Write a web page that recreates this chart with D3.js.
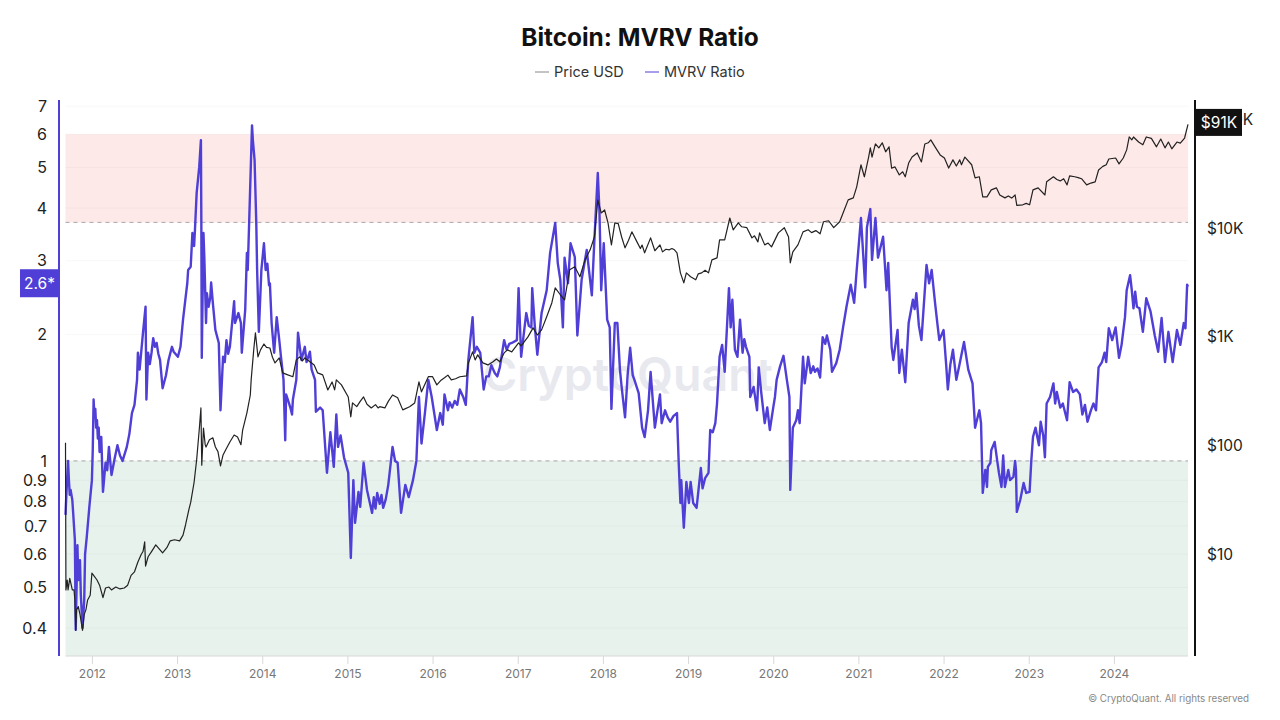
<!DOCTYPE html>
<html>

<head>
  <title>Bitcoin: MVRV Ratio</title>
  <script src="https://cdn.jsdelivr.net/npm/d3@7/dist/d3.min.js"></script>
  <style>
    body { margin: 0; background: #fff; font-family: Inter, "Noto Sans", sans-serif; }
    svg { display: block; }
    .domain { display: none; }
  </style>
</head>

<body>
  <svg id="chart" width="1280" height="720"></svg>

  <script>
    // [decimal year, MVRV ratio]
    var mvrvPoints = [
      [2011.69,.744],[2011.70,.83],[2011.72,1],[2011.73,.9],[2011.74,.83],[2011.75,.853],[2011.77,.807],[2011.78,.752],[2011.80,.648],[2011.81,.396],[2011.83,.63],[2011.84,.52],[2011.86,.58],[2011.87,.48],[2011.89,.4],[2011.91,.467],[2011.92,.6],[2011.94,.66],[2011.97,.777],
      [2012.00,.9],[2012.01,1.06],[2012.02,1.4],[2012.03,1.27],[2012.04,1.33],[2012.05,1.2],[2012.06,1.25],[2012.07,1.13],[2012.08,1.2],[2012.09,1.05],[2012.11,1.14],[2012.13,.844],[2012.16,.99],[2012.18,.95],[2012.20,1.08],[2012.23,.926],[2012.27,1.02],[2012.30,1.09],[2012.33,1.03],[2012.36,1],[2012.41,1.08],[2012.44,1.16],[2012.47,1.3],[2012.50,1.36],[2012.53,1.56],[2012.54,1.81],[2012.56,1.65],[2012.60,2.02],[2012.63,2.33],[2012.64,1.4],[2012.66,1.81],[2012.68,1.7],[2012.70,1.81],[2012.72,1.96],[2012.74,1.87],[2012.76,1.91],[2012.78,1.8],[2012.80,1.74],[2012.83,1.49],[2012.87,1.6],[2012.90,1.74],[2012.94,1.87],[2012.96,1.82],
      [2013.01,1.77],[2013.04,1.87],[2013.07,2.17],[2013.10,2.45],[2013.12,2.65],[2013.13,2.85],[2013.16,2.9],[2013.18,3.49],[2013.20,3.25],[2013.21,3.55],[2013.23,4.35],[2013.26,5.01],[2013.28,5.81],[2013.285,3.69],[2013.29,1.76],[2013.31,3.49],[2013.32,3.06],[2013.34,2.13],[2013.35,2.51],[2013.37,2.33],[2013.39,2.45],[2013.40,2.66],[2013.42,2.38],[2013.45,2.05],[2013.49,1.91],[2013.51,1.32],[2013.54,1.77],[2013.56,1.72],[2013.58,1.94],[2013.60,1.8],[2013.62,1.87],[2013.67,2.4],[2013.68,2.13],[2013.72,2.25],[2013.75,2.13],[2013.76,1.81],[2013.80,2.29],[2013.82,3.13],[2013.83,2.85],[2013.88,6.3],[2013.89,5.81],[2013.91,5.21],[2013.93,3.69],[2013.94,2.85],[2013.96,2.03],[2013.99,2.85],
      [2014.02,3.3],[2014.04,2.85],[2014.06,2.95],[2014.08,2.62],[2014.09,2.65],[2014.11,2.13],[2014.14,1.81],[2014.17,2.2],[2014.20,1.94],[2014.22,1.77],[2014.25,1.56],[2014.27,1.12],[2014.28,1.44],[2014.31,1.38],[2014.33,1.34],[2014.35,1.29],[2014.36,1.4],[2014.40,1.56],[2014.42,2.02],[2014.46,1.74],[2014.50,1.87],[2014.52,1.72],[2014.54,1.77],[2014.56,1.82],[2014.58,1.65],[2014.62,1.56],[2014.63,1.31],[2014.68,1.34],[2014.71,1.32],[2014.76,.937],[2014.80,1.17],[2014.84,.968],[2014.87,1.29],[2014.89,1.08],[2014.92,1.15],[2014.96,1.02],
      [2015.01,.937],[2015.04,.587],[2015.07,.9],[2015.09,.712],[2015.13,.844],[2015.15,.777],[2015.19,.99],[2015.23,.853],[2015.26,.8],[2015.29,.752],[2015.31,.82],[2015.33,.77],[2015.35,.839],[2015.38,.79],[2015.40,.83],[2015.42,.773],[2015.45,.81],[2015.48,.877],[2015.53,1.08],[2015.56,1],[2015.59,.99],[2015.63,.752],[2015.68,.877],[2015.72,.82],[2015.77,.9],[2015.81,1],[2015.84,1.42],[2015.87,1.1],[2015.91,1.3],[2015.95,1.56],[2015.99,1.42],
      [2016.05,1.185],[2016.09,1.3],[2016.12,1.22],[2016.14,1.44],[2016.18,1.32],[2016.20,1.38],[2016.23,1.34],[2016.26,1.39],[2016.29,1.36],[2016.32,1.48],[2016.36,1.42],[2016.39,1.36],[2016.42,1.74],[2016.47,2.2],[2016.49,1.81],[2016.52,1.87],[2016.56,1.81],[2016.60,1.48],[2016.63,1.59],[2016.66,1.59],[2016.69,1.69],[2016.73,1.62],[2016.76,1.59],[2016.79,1.67],[2016.84,1.94],[2016.87,1.84],[2016.90,1.9],[2016.93,1.91],[2016.99,1.94],
      [2017.01,2.58],[2017.04,1.77],[2017.07,2.0],[2017.10,2.25],[2017.13,2.1],[2017.16,2.08],[2017.17,2.58],[2017.20,2.1],[2017.23,1.79],[2017.28,2.25],[2017.34,2.55],[2017.38,3.13],[2017.44,3.69],[2017.47,2.96],[2017.50,2.7],[2017.53,2.08],[2017.55,3.05],[2017.59,2.65],[2017.62,3.3],[2017.67,3.06],[2017.70,1.99],[2017.75,2.7],[2017.81,3.18],[2017.87,2.48],[2017.90,3.36],[2017.94,4.85],[2017.96,3.9],[2017.98,2.55],
      [2018.01,3.3],[2018.05,2.17],[2018.08,2.08],[2018.10,1.33],[2018.14,2.13],[2018.17,2.13],[2018.20,1.65],[2018.22,1.5],[2018.26,1.27],[2018.29,1.6],[2018.32,1.86],[2018.35,1.6],[2018.37,1.56],[2018.42,1.45],[2018.46,1.2],[2018.49,1.14],[2018.53,1.32],[2018.56,1.63],[2018.61,1.2],[2018.67,1.44],[2018.69,1.23],[2018.73,1.32],[2018.76,1.27],[2018.79,1.24],[2018.83,1.28],[2018.87,1.3],[2018.89,.99],[2018.91,.794],[2018.92,.9],[2018.95,.693],[2018.98,.891],
      [2019.01,.794],[2019.03,.891],[2019.06,.794],[2019.10,.773],[2019.15,.962],[2019.17,.86],[2019.20,.91],[2019.24,.937],[2019.26,1.185],[2019.29,1.17],[2019.32,1.23],[2019.34,1.37],[2019.37,1.77],[2019.40,1.89],[2019.43,1.63],[2019.48,2.58],[2019.50,2.08],[2019.52,2.42],[2019.55,1.84],[2019.58,1.77],[2019.61,2.17],[2019.64,1.81],[2019.66,1.95],[2019.68,1.87],[2019.72,1.77],[2019.73,1.42],[2019.77,1.5],[2019.81,1.32],[2019.83,1.67],[2019.86,1.45],[2019.90,1.23],[2019.93,1.34],[2019.96,1.185],
      [2020.00,1.34],[2020.02,1.42],[2020.04,1.56],[2020.08,1.68],[2020.12,1.78],[2020.16,1.56],[2020.19,1.42],[2020.20,.853],[2020.23,1.2],[2020.27,1.25],[2020.29,1.32],[2020.31,1.23],[2020.35,1.77],[2020.37,1.53],[2020.41,1.77],[2020.44,1.62],[2020.47,1.68],[2020.49,1.63],[2020.52,1.66],[2020.55,1.58],[2020.58,1.97],[2020.61,1.9],[2020.63,1.99],[2020.67,1.84],[2020.69,1.63],[2020.74,1.71],[2020.78,1.84],[2020.82,2.08],[2020.86,2.33],[2020.91,2.63],[2020.95,2.38],[2020.98,2.85],
      [2021.03,3.79],[2021.08,2.59],[2021.10,3.6],[2021.14,3.98],[2021.16,3.01],[2021.20,3.79],[2021.23,3.05],[2021.29,3.42],[2021.31,2.96],[2021.33,2.55],[2021.35,2.96],[2021.39,1.87],[2021.41,1.74],[2021.46,2.05],[2021.48,1.62],[2021.51,1.84],[2021.55,1.54],[2021.59,2.13],[2021.62,2.3],[2021.64,2.42],[2021.66,2.3],[2021.68,2.51],[2021.71,2.1],[2021.74,1.94],[2021.80,2.93],[2021.83,2.65],[2021.86,2.85],[2021.90,2.38],[2021.93,2.1],[2021.95,1.94],
      [2022.00,2.05],[2022.03,1.7],[2022.05,1.48],[2022.08,1.7],[2022.11,1.84],[2022.15,1.56],[2022.18,1.67],[2022.24,1.92],[2022.29,1.65],[2022.34,1.53],[2022.37,1.2],[2022.42,1.32],[2022.44,1.23],[2022.46,.839],[2022.49,.952],[2022.51,.867],[2022.52,.968],[2022.55,.99],[2022.56,1.06],[2022.60,1.11],[2022.63,1],[2022.65,.937],[2022.68,.867],[2022.70,1.03],[2022.72,.867],[2022.76,.952],[2022.78,.9],[2022.82,.916],[2022.84,1],[2022.85,.952],[2022.86,.756],[2022.90,.807],[2022.94,.886],[2022.97,.839],
      [2023.01,.844],[2023.03,1],[2023.05,1.14],[2023.08,1.2],[2023.12,1.09],[2023.14,1.24],[2023.17,1.15],[2023.19,1.02],[2023.21,1.37],[2023.25,1.42],[2023.29,1.53],[2023.31,1.37],[2023.33,1.46],[2023.37,1.34],[2023.40,1.37],[2023.45,1.25],[2023.48,1.54],[2023.52,1.46],[2023.56,1.48],[2023.60,1.44],[2023.63,1.29],[2023.66,1.36],[2023.69,1.24],[2023.73,1.32],[2023.76,1.37],[2023.79,1.32],[2023.82,1.67],[2023.86,1.72],[2023.89,1.81],[2023.91,1.72],[2023.94,2.07],[2023.98,1.94],
      [2024.02,2.08],[2024.06,1.76],[2024.09,1.89],[2024.13,2.2],[2024.15,2.55],[2024.19,2.77],[2024.21,2.55],[2024.23,2.31],[2024.25,2.53],[2024.27,2.33],[2024.30,2.31],[2024.34,2.03],[2024.38,2.44],[2024.43,2.27],[2024.48,1.99],[2024.52,1.82],[2024.56,2.19],[2024.60,1.72],[2024.64,2.03],[2024.69,1.72],[2024.74,2.05],[2024.78,1.89],[2024.82,2.13],[2024.84,2.07],[2024.86,2.63],[2024.87,2.6]
    ];

    // [decimal year, price in USD]
    var pricePoints = [
      [2011.69,106],[2011.695,4.7],[2011.71,5.8],[2011.72,4.7],[2011.74,6],[2011.77,4.7],[2011.79,4.7],[2011.80,3.8],[2011.81,2],[2011.82,3.1],[2011.84,3.3],[2011.86,2.8],[2011.89,2],[2011.91,2.8],[2011.93,3.1],[2011.95,3.8],[2011.98,4.2],
      [2012.00,6.7],[2012.02,6.4],[2012.06,5.8],[2012.09,5.2],[2012.13,4],[2012.16,4.9],[2012.20,5],[2012.23,4.7],[2012.28,5],[2012.33,4.8],[2012.38,4.9],[2012.42,5.2],[2012.46,6.4],[2012.50,6.9],[2012.54,8.5],[2012.58,10],[2012.60,10.6],[2012.62,13],[2012.63,7.8],[2012.66,9.5],[2012.70,10.6],[2012.75,12.2],[2012.80,11],[2012.83,10.3],[2012.88,11.5],[2012.92,13.3],[2012.97,13.6],
      [2013.03,13.3],[2013.07,15],[2013.10,18.7],[2013.14,26],[2013.16,30],[2013.20,46],[2013.23,74],[2013.26,139],[2013.28,222],[2013.29,66],[2013.31,145],[2013.33,102],[2013.34,97],[2013.38,113],[2013.42,118],[2013.45,97],[2013.48,88],[2013.51,65],[2013.54,82],[2013.57,91],[2013.62,108],[2013.67,125],[2013.71,120],[2013.75,102],[2013.77,139],[2013.82,200],[2013.86,292],[2013.87,402],[2013.90,760],[2013.92,1090],[2013.95,655],[2013.98,760],
      [2014.02,860],[2014.05,800],[2014.09,790],[2014.12,650],[2014.15,576],[2014.20,640],[2014.24,466],[2014.30,447],[2014.36,430],[2014.40,614],[2014.44,655],[2014.47,600],[2014.50,640],[2014.56,590],[2014.61,552],[2014.65,466],[2014.71,447],[2014.77,325],[2014.82,385],[2014.85,325],[2014.87,402],[2014.93,362],
      [2015.01,280],[2015.04,184],[2015.06,247],[2015.11,228],[2015.15,255],[2015.19,280],[2015.23,240],[2015.28,222],[2015.33,238],[2015.36,222],[2015.38,228],[2015.44,222],[2015.48,255],[2015.53,292],[2015.59,275],[2015.65,213],[2015.73,228],[2015.79,247],[2015.84,385],[2015.87,312],[2015.95,430],
      [2016.00,430],[2016.05,362],[2016.10,400],[2016.14,420],[2016.18,445],[2016.22,402],[2016.27,412],[2016.32,430],[2016.40,438],[2016.42,576],[2016.47,728],[2016.50,614],[2016.53,683],[2016.59,576],[2016.65,552],[2016.71,590],[2016.75,625],[2016.79,590],[2016.84,712],[2016.88,760],[2016.93,728],
      [2017.01,880],[2017.04,826],[2017.12,1000],[2017.18,1210],[2017.23,1040],[2017.28,1160],[2017.34,1530],[2017.40,2050],[2017.44,2820],[2017.50,2440],[2017.55,2190],[2017.61,4140],[2017.67,4410],[2017.73,3570],[2017.79,5110],[2017.85,6320],[2017.90,8290],[2017.94,18200],[2017.98,13800],
      [2018.02,14700],[2018.06,11200],[2018.10,7020],[2018.14,11200],[2018.18,11000],[2018.22,8290],[2018.26,6590],[2018.30,7700],[2018.34,9250],[2018.40,7480],[2018.44,6500],[2018.46,7000],[2018.49,5930],[2018.56,8140],[2018.61,6200],[2018.67,7020],[2018.70,6050],[2018.74,6400],[2018.78,6320],[2018.81,6500],[2018.84,6320],[2018.87,5930],[2018.91,3880],[2018.95,3140],[2018.98,3880],
      [2019.03,3570],[2019.09,3350],[2019.12,3800],[2019.16,3880],[2019.20,4100],[2019.24,3880],[2019.28,5110],[2019.34,5330],[2019.37,7800],[2019.43,7800],[2019.49,12400],[2019.53,9660],[2019.59,11200],[2019.63,10300],[2019.69,10100],[2019.75,8140],[2019.78,8500],[2019.82,7480],[2019.84,9050],[2019.90,7020],[2019.94,7300],[2019.98,6730],
      [2020.06,9050],[2020.13,10100],[2020.18,8290],[2020.20,4800],[2020.23,6050],[2020.29,7020],[2020.35,9250],[2020.41,9660],[2020.45,9100],[2020.50,9500],[2020.55,8870],[2020.59,11450],[2020.65,11700],[2020.71,10100],[2020.78,11450],[2020.82,13800],[2020.88,18200],[2020.94,19000],[2020.98,24000],
      [2021.03,38300],[2021.07,29700],[2021.12,45100],[2021.14,54800],[2021.16,45100],[2021.20,59500],[2021.24,54800],[2021.28,61000],[2021.32,50400],[2021.36,56000],[2021.39,35700],[2021.43,36600],[2021.46,33000],[2021.48,30900],[2021.52,33000],[2021.55,29700],[2021.59,39700],[2021.63,45100],[2021.69,49200],[2021.74,40700],[2021.78,59500],[2021.82,61000],[2021.85,64900],[2021.90,56000],[2021.96,47200],
      [2022.01,44200],[2022.06,35700],[2022.11,42500],[2022.15,37300],[2022.19,42500],[2022.21,38300],[2022.25,45100],[2022.33,38300],[2022.37,29000],[2022.42,29700],[2022.46,19400],[2022.51,19400],[2022.56,22500],[2022.62,23500],[2022.66,20200],[2022.72,19000],[2022.76,19800],[2022.80,18900],[2022.84,20200],[2022.86,16200],[2022.93,16400],[2022.97,16900],
      [2023.01,16400],[2023.05,22500],[2023.11,23500],[2023.19,20200],[2023.21,26700],[2023.29,29700],[2023.33,28000],[2023.37,27200],[2023.41,28500],[2023.45,25000],[2023.48,30300],[2023.54,29700],[2023.58,29200],[2023.62,28500],[2023.68,25000],[2023.73,26000],[2023.78,26700],[2023.82,34300],[2023.87,37000],[2023.91,38300],[2023.94,43300],
      [2024.02,44200],[2024.06,39000],[2024.11,44200],[2024.15,52500],[2024.18,69000],[2024.21,64900],[2024.23,69000],[2024.29,62000],[2024.34,58500],[2024.38,69000],[2024.44,67000],[2024.50,56000],[2024.55,66000],[2024.60,54800],[2024.64,62000],[2024.68,53700],[2024.74,62000],[2024.78,60500],[2024.83,67500],[2024.87,90000]
    ];

    var yearTicks = [2012, 2013, 2014, 2015, 2016, 2017, 2018, 2019, 2020, 2021, 2022, 2023, 2024];
    var mvrvTicks = [0.4, 0.5, 0.6, 0.7, 0.8, 0.9, 1, 2, 3, 4, 5, 6, 7];
    var priceTicks = [10, 100, 1000, 10000, 100000];
    var priceLabels = ["$10", "$100", "$1K", "$10K", "$100K"];

    var highBand = [3.7, 6];  // red zone
    var lowLine = 1;          // green zone top
    var lastMvrv = "2.6*";
    var lastPrice = "$91K";
    var lastMvrvValue = 2.65;
    var lastPriceValue = 91000;

    var purple = "#4f3fd6";
    var svg = d3.select("#chart");

    var x = d3.scaleLinear().domain([2011.69, 2024.87]).range([65.5, 1188]);
    var y = d3.scaleLog().domain([0.343, 7.24]).range([656, 100]);
    var yPrice = d3.scaleLog().domain([1.16, 151000]).range([656, 100]);

    // bands
    svg.append("rect").attr("x", x.range()[0]).attr("width", x.range()[1] - x.range()[0])
      .attr("y", y(highBand[1])).attr("height", y(highBand[0]) - y(highBand[1]))
      .attr("fill", "#fde9e7");
    svg.append("rect").attr("x", x.range()[0]).attr("width", x.range()[1] - x.range()[0])
      .attr("y", y(lowLine)).attr("height", 656 - y(lowLine))
      .attr("fill", "#e7f2ed");

    // faint grid from the left ticks
    svg.append("g").selectAll("line").data(mvrvTicks).join("line")
      .attr("x1", x.range()[0]).attr("x2", x.range()[1])
      .attr("y1", d => y(d)).attr("y2", d => y(d))
      .attr("stroke", "#777").attr("stroke-opacity", 0.05);

    // watermark sits behind the lines
    svg.append("text").attr("x", 628).attr("y", 391).attr("text-anchor", "middle")
      .attr("font-size", 46.5).attr("font-weight", 600).attr("fill", "#e8e8ef")
      .text("CryptoQuant");

    // dashed thresholds
    svg.append("g").selectAll("line").data([highBand[0], lowLine]).join("line")
      .attr("x1", x.range()[0]).attr("x2", x.range()[1])
      .attr("y1", d => y(d)).attr("y2", d => y(d))
      .attr("stroke", "#a8a8a8").attr("stroke-width", 1).attr("stroke-dasharray", "4 4");

    // lines
    var mvrvLine = d3.line().x(d => x(d[0])).y(d => y(d[1]));
    var priceLine = d3.line().x(d => x(d[0])).y(d => yPrice(d[1]));

    svg.append("path").datum(mvrvPoints).attr("d", mvrvLine)
      .attr("fill", "none").attr("stroke", purple).attr("stroke-width", 2.4).attr("stroke-linejoin", "round");
    svg.append("path").datum(pricePoints).attr("d", priceLine)
      .attr("fill", "none").attr("stroke", "#222").attr("stroke-width", 1.2).attr("stroke-linejoin", "round");

    // x axis
    var xAxis = svg.append("g").attr("transform", "translate(0,656)")
      .call(d3.axisBottom(x).tickValues(yearTicks).tickFormat(d3.format("d")).tickSize(8).tickPadding(5));
    xAxis.selectAll("text").attr("font-size", 12).attr("font-family", "Inter").attr("fill", "#777");
    xAxis.selectAll("line").attr("stroke", "#d8d8d8");
    svg.append("line").attr("x1", x.range()[0]).attr("x2", x.range()[1]).attr("y1", 656).attr("y2", 656)
      .attr("stroke", "#d8d8d8");

    // left axis
    var leftAxis = svg.append("g").attr("transform", "translate(59,0)")
      .call(d3.axisLeft(y).tickValues(mvrvTicks).tickFormat(d => d).tickSize(0).tickPadding(12));
    leftAxis.selectAll("text").attr("font-size", 16).attr("font-family", "Inter").attr("fill", "#222");
    svg.append("line").attr("x1", 59).attr("x2", 59).attr("y1", 100).attr("y2", 656)
      .attr("stroke", purple).attr("stroke-width", 2);

    // right axis
    var rightAxis = svg.append("g").attr("transform", "translate(1195,0)")
      .call(d3.axisRight(yPrice).tickValues(priceTicks).tickFormat((d, i) => priceLabels[i]).tickSize(0).tickPadding(12));
    rightAxis.selectAll("text").attr("font-size", 15.5).attr("font-family", "Inter").attr("fill", "#222");
    svg.append("line").attr("x1", 1195).attr("x2", 1195).attr("y1", 100).attr("y2", 656)
      .attr("stroke", "#111").attr("stroke-width", 2);

    // last value badges
    svg.append("rect").attr("x", 20).attr("y", y(lastMvrvValue) - 14).attr("width", 39).attr("height", 28).attr("fill", purple);
    svg.append("text").attr("x", 39.5).attr("y", y(lastMvrvValue)).attr("dy", "0.35em").attr("text-anchor", "middle")
      .attr("font-size", 15.5).attr("fill", "#fff").text(lastMvrv);
    svg.append("rect").attr("x", 1196).attr("y", yPrice(lastPriceValue) - 15).attr("width", 46).attr("height", 27).attr("fill", "#111");
    svg.append("text").attr("x", 1219).attr("y", yPrice(lastPriceValue) - 1).attr("dy", "0.35em").attr("text-anchor", "middle")
      .attr("font-size", 15.5).attr("fill", "#fff").text(lastPrice);

    // title and legend
    svg.append("text").attr("x", 640).attr("y", 46).attr("text-anchor", "middle")
      .attr("font-size", 24.4).attr("font-weight", 700).attr("fill", "#111").text("Bitcoin: MVRV Ratio");

    var legend = [["Price USD", "#888", 535], ["MVRV Ratio", purple, 645]];
    legend.forEach(function (d) {
      svg.append("line").attr("x1", d[2]).attr("x2", d[2] + 14).attr("y1", 72).attr("y2", 72).attr("stroke", d[1]);
      svg.append("text").attr("x", d[2] + 19).attr("y", 72).attr("dy", "0.35em")
        .attr("font-size", 14.5).attr("fill", "#333").text(d[0]);
    });

    svg.append("text").attr("x", 1249).attr("y", 702).attr("text-anchor", "end")
      .attr("font-size", 9.8).attr("fill", "#888").text("© CryptoQuant. All rights reserved");
  </script>
</body>

</html>
